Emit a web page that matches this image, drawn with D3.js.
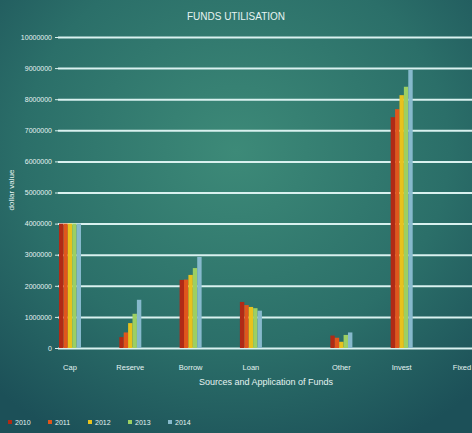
<!DOCTYPE html>
<html>
<head>
<meta charset="utf-8">
<script src="https://cdn.jsdelivr.net/npm/d3@7"></script>
<style>
  html, body { margin: 0; padding: 0; background: #1f5a5c; }
  svg { display: block; font-family: "Liberation Sans Narrow", "Liberation Sans", Arial, sans-serif; }
</style>
</head>
<body>
<div id="wrapper"></div>
<script>
// data
const categories = ["Cap", "Reserve", "Borrow", "Loan", "Other", "Invest", "Fixed"];
const years = ["2010", "2011", "2012", "2013", "2014"];
const values2010 = [4000000, 350000, 2190000, 1480000, 400000, 7420000, 0];
const values2011 = [4000000, 500000, 2200000, 1380000, 330000, 7680000, 0];
const values2012 = [4000000, 800000, 2350000, 1320000, 200000, 8130000, 0];
const values2013 = [4000000, 1100000, 2570000, 1280000, 420000, 8400000, 0];
const values2014 = [4000000, 1550000, 2930000, 1200000, 500000, 8940000, 0];
const yTicks = [0, 1000000, 2000000, 3000000, 4000000, 5000000, 6000000, 7000000, 8000000, 9000000, 10000000];
const seriesValues = [values2010, values2011, values2012, values2013, values2014];

const colors = ["#b02a14", "#e0561c", "#e8c21e", "#9ccf63", "#86b9cc"];

const dimensions = {
    width: 472,
    height: 433,
    margin: { top: 37, right: 0, bottom: 85, left: 58 },
};
dimensions.boundedWidth = dimensions.width - dimensions.margin.left - dimensions.margin.right;
dimensions.boundedHeight = dimensions.height - dimensions.margin.top - dimensions.margin.bottom;

const wrapper = d3.select("#wrapper")
    .append("svg")
    .attr("width", dimensions.width)
    .attr("height", dimensions.height);

// background gradient
const defs = wrapper.append("defs");
const bg = defs.append("radialGradient")
    .attr("id", "bg")
    .attr("cx", "50%").attr("cy", "35%").attr("r", "75%");
bg.append("stop").attr("offset", "0%").attr("stop-color", "#3d8a78");
bg.append("stop").attr("offset", "60%").attr("stop-color", "#2b6f69");
bg.append("stop").attr("offset", "100%").attr("stop-color", "#1c5058");

const blur = defs.append("filter").attr("id", "soft")
    .attr("x", "-30%").attr("width", "160%");
blur.append("feGaussianBlur").attr("stdDeviation", 0.6);

wrapper.append("rect")
    .attr("width", dimensions.width)
    .attr("height", dimensions.height)
    .attr("fill", "url(#bg)");

const bounds = wrapper.append("g")
    .attr("transform", `translate(${dimensions.margin.left}, ${dimensions.margin.top})`);

// scales
const yScale = d3.scaleLinear()
    .domain([0, 10000000])
    .range([dimensions.boundedHeight, 0]);

// the source leaves a wider gap after "Loan"
const slot = i => i + (i > 3 ? 0.5 : 0);
const xScale = d3.scaleLinear()
    .domain([0, slot(categories.length - 1)])
    .range([12, 404]);

const bandWidth = 22;
const xInner = d3.scaleBand()
    .domain(years)
    .range([-bandWidth / 2, bandWidth / 2])
    .padding(0);

// grid lines
const yGrid = d3.axisLeft(yScale)
    .tickValues(yTicks)
    .tickSize(-dimensions.boundedWidth)
    .tickFormat("");
bounds.append("g")
    .attr("class", "grid")
    .call(yGrid)
    .call(g => g.select(".domain").remove())
    .call(g => g.selectAll(".tick line")
        .attr("stroke", "#d9f1ef")
        .attr("stroke-width", 2));

// bars
const groups = bounds.selectAll(".group")
    .data(categories)
    .join("g")
    .attr("class", "group")
    .attr("transform", (d, i) => `translate(${xScale(slot(i))}, 0)`);

groups.selectAll("rect")
    .data((d, i) => years.map((y, j) => ({ year: y, value: seriesValues[j][i], color: colors[j] })))
    .join("rect")
    .attr("x", d => xInner(d.year))
    .attr("width", xInner.bandwidth())
    .attr("y", d => yScale(d.value))
    .attr("height", d => yScale(0) - yScale(d.value))
    .attr("fill", d => d.color)
    .attr("filter", "url(#soft)");

// y axis labels
const yAxis = d3.axisLeft(yScale)
    .tickValues(yTicks)
    .tickSize(3)
    .tickPadding(3)
    .tickFormat(d => d);
bounds.append("g")
    .attr("class", "y-axis")
    .call(yAxis)
    .call(g => g.select(".domain").remove())
    .call(g => g.selectAll(".tick line").attr("stroke", "#d9f1ef"))
    .call(g => g.selectAll(".tick text")
        .attr("fill", "#e6f4f2")
        .style("font-size", "7px"));

// x axis labels
bounds.append("g")
    .attr("class", "x-axis")
    .selectAll("text")
    .data(categories)
    .join("text")
    .attr("x", (d, i) => xScale(slot(i)))
    .attr("y", dimensions.boundedHeight + 22)
    .attr("text-anchor", "middle")
    .attr("fill", "#e6f4f2")
    .style("font-size", "7.5px")
    .text(d => d);

// axis titles
wrapper.append("text")
    .attr("x", 266)
    .attr("y", 385)
    .attr("text-anchor", "middle")
    .attr("fill", "#e6f4f2")
    .style("font-size", "9px")
    .text("Sources and Application of Funds");

wrapper.append("text")
    .attr("transform", "translate(14, 190) rotate(-90)")
    .attr("text-anchor", "middle")
    .attr("fill", "#e6f4f2")
    .style("font-size", "8px")
    .text("dollar value");

wrapper.append("text")
    .attr("x", 236)
    .attr("y", 20)
    .attr("text-anchor", "middle")
    .attr("fill", "#e6f4f2")
    .style("font-size", "10px")
    .text("FUNDS UTILISATION");

// legend
const legend = wrapper.append("g")
    .attr("transform", "translate(8, 425)");
const legendItems = legend.selectAll("g")
    .data(years)
    .join("g")
    .attr("transform", (d, i) => `translate(${i * 40}, 0)`);
legendItems.append("rect")
    .attr("x", 0)
    .attr("y", -5)
    .attr("width", 4)
    .attr("height", 4)
    .attr("fill", (d, i) => colors[i]);
legendItems.append("text")
    .attr("x", 7)
    .attr("y", 0)
    .attr("fill", "#e6f4f2")
    .style("font-size", "7px")
    .text(d => d);
</script>
</body>
</html>
